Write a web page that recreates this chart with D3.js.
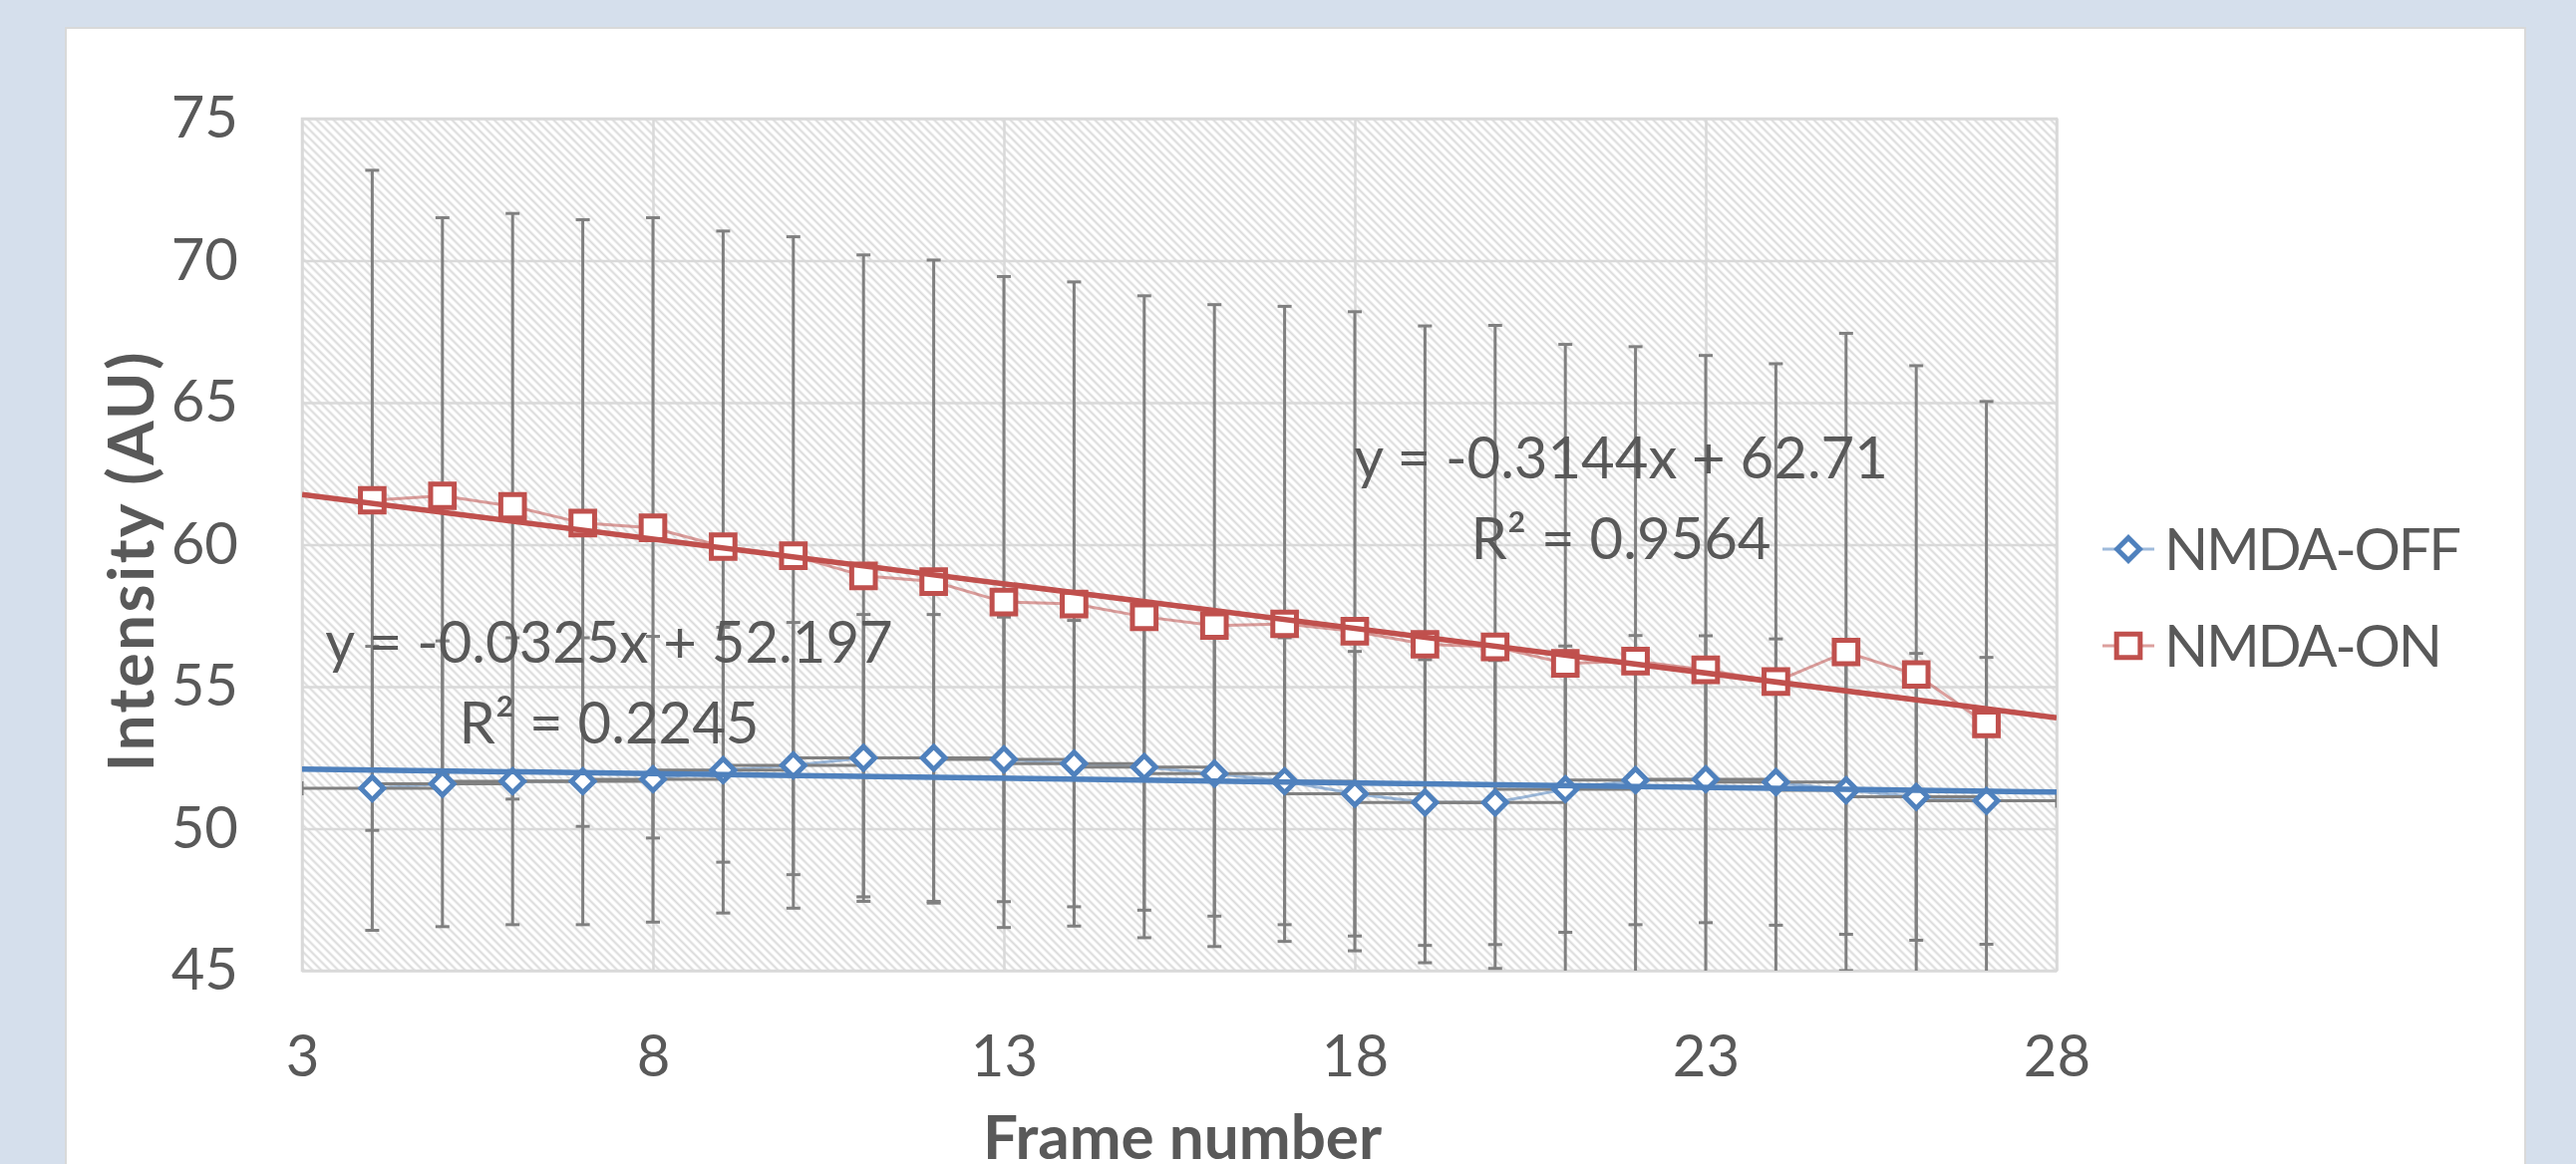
<!DOCTYPE html>
<html>
<head>
<meta charset="utf-8">
<script src="https://d3js.org/d3.v7.min.js"></script>
<style>
body { margin: 0; background: #d5dfec; }
svg { display: block; }
</style>
</head>
<body>
<script>
// frame numbers
var frames = [4, 5, 6, 7, 8, 9, 10, 11, 12, 13, 14, 15,
              16, 17, 18, 19, 20, 21, 22, 23, 24, 25, 26, 27];

// NMDA-OFF mean and SD
var offMean = [51.42, 51.58, 51.67, 51.67, 51.74, 52.06, 52.23, 52.49, 52.49, 52.44, 52.29, 52.17,
               51.94, 51.67, 51.23, 50.92, 50.92, 51.39, 51.71, 51.74, 51.64, 51.35, 51.12, 50.98];
var offSd = [5.00, 5.03, 5.05, 5.05, 5.03, 5.03, 5.03, 5.05, 5.05, 5.01, 5.04, 5.04,
             5.02, 5.05, 5.01, 5.03, 5.00, 5.04, 5.09, 5.05, 5.04, 5.07, 5.05, 5.05];
var offXErr = 1;

// NMDA-ON mean and SD
var onMean = [61.56, 61.72, 61.35, 60.76, 60.59, 59.93, 59.61, 58.90, 58.70, 57.98, 57.91, 57.46,
              57.15, 57.21, 56.95, 56.49, 56.40, 55.82, 55.90, 55.59, 55.18, 56.22, 55.43, 53.69];
var onSd = [11.62, 9.79, 10.31, 10.68, 10.92, 11.11, 11.23, 11.30, 11.32, 11.46, 11.34, 11.30,
            11.30, 11.18, 11.25, 11.21, 11.32, 11.23, 11.07, 11.07, 11.19, 11.22, 10.87, 11.35];

// linear trendlines (slope, intercept, R2)
var offTrend = [-0.0325, 52.197, 0.2245];
var onTrend = [-0.3144, 62.71, 0.9564];

var xTicks = [3, 8, 13, 18, 23, 28];
var yTicks = [45, 50, 55, 60, 65, 70, 75];
var seriesNames = ["NMDA-OFF", "NMDA-ON"];

var width = 2584, height = 1168;
var plotL = 303, plotR = 2063, plotT = 119, plotB = 974;
var fontSize = 58;
var textColor = "#595959";
var blue = "#4f81bd", red = "#c0504d", barColor = "#808080";

var svg = d3.select("body")
	.append("svg")
	.attr("width", width)
	.attr("height", height)
	.style("font-family", "Lato, 'Open Sans', sans-serif");

// white chart panel
svg.append("rect")
	.attr("x", 66).attr("y", 28)
	.attr("width", 2467).attr("height", 1200)
	.attr("fill", "#ffffff")
	.attr("stroke", "#d9d9d9")
	.attr("stroke-width", 2);

var defs = svg.append("defs");
var pat = defs.append("pattern")
	.attr("id", "hatch")
	.attr("patternUnits", "userSpaceOnUse")
	.attr("width", 6).attr("height", 6)
	.attr("patternTransform", "rotate(-45)");
pat.append("rect").attr("width", 6).attr("height", 6).attr("fill", "#ffffff");
pat.append("line")
	.attr("x1", 1.5).attr("y1", 0).attr("x2", 1.5).attr("y2", 6)
	.attr("stroke", "#d9d9d9")
	.attr("stroke-width", 2);

defs.append("clipPath").attr("id", "plotclip")
	.append("rect")
	.attr("x", plotL).attr("y", plotT)
	.attr("width", plotR - plotL).attr("height", plotB - plotT);

var x = d3.scaleLinear().domain([3, 28]).range([plotL, plotR]);
var y = d3.scaleLinear().domain([45, 75]).range([plotB, plotT]);

// plot area
svg.append("rect")
	.attr("x", plotL).attr("y", plotT)
	.attr("width", plotR - plotL).attr("height", plotB - plotT)
	.attr("fill", "url(#hatch)");

// gridlines
var gridY = svg.append("g")
	.attr("transform", "translate(" + plotL + ",0)")
	.call(d3.axisLeft(y).tickValues(yTicks).tickSize(-(plotR - plotL)).tickFormat(""));
var gridX = svg.append("g")
	.attr("transform", "translate(0," + plotB + ")")
	.call(d3.axisBottom(x).tickValues(xTicks).tickSize(-(plotB - plotT)).tickFormat(""));
[gridX, gridY].forEach(function(g) {
	g.select(".domain").remove();
	g.selectAll("line").attr("stroke", "#d9d9d9").attr("stroke-width", 2.5);
});

svg.append("rect")
	.attr("x", plotL).attr("y", plotT)
	.attr("width", plotR - plotL).attr("height", plotB - plotT)
	.attr("fill", "none")
	.attr("stroke", "#d9d9d9")
	.attr("stroke-width", 2.5);

// tick labels
var axY = svg.append("g")
	.attr("transform", "translate(" + plotL + ",0)")
	.call(d3.axisLeft(y).tickValues(yTicks).tickSize(0).tickPadding(64));
var axX = svg.append("g")
	.attr("transform", "translate(0," + plotB + ")")
	.call(d3.axisBottom(x).tickValues(xTicks).tickSize(0).tickPadding(65));
[axX, axY].forEach(function(g) {
	g.select(".domain").remove();
	g.selectAll("text")
		.attr("fill", textColor)
		.style("font-size", fontSize + "px")
		.style("font-family", "Lato, 'Open Sans', sans-serif");
});

// axis titles
svg.append("text")
	.attr("transform", "translate(154,564) rotate(-90)")
	.attr("text-anchor", "middle")
	.attr("fill", textColor)
	.attr("textLength", 421)
	.style("font-size", "64px")
	.style("font-weight", "bold")
	.text("Intensity (AU)");

svg.append("text")
	.attr("x", 1186).attr("y", 1163)
	.attr("text-anchor", "middle")
	.attr("fill", textColor)
	.style("font-size", "62px")
	.style("font-weight", "bold")
	.text("Frame number");

var offData = frames.map(function(f, i) { return {x: f, y: offMean[i], sd: offSd[i]}; });
var onData = frames.map(function(f, i) { return {x: f, y: onMean[i], sd: onSd[i]}; });

var plot = svg.append("g").attr("clip-path", "url(#plotclip)");

// series lines
var line = d3.line().x(function(d) { return x(d.x); }).y(function(d) { return y(d.y); });
plot.append("path").datum(offData)
	.attr("d", line).attr("fill", "none")
	.attr("stroke", blue).attr("stroke-opacity", 0.55).attr("stroke-width", 3);
plot.append("path").datum(onData)
	.attr("d", line).attr("fill", "none")
	.attr("stroke", red).attr("stroke-opacity", 0.55).attr("stroke-width", 3);

// vertical error bars
function vBars(data) {
	var g = plot.append("g")
		.attr("stroke", barColor)
		.attr("stroke-width", 3);
	g.selectAll("line.bar")
		.data(data)
		.enter()
		.append("line")
		.attr("x1", function(d) { return x(d.x); })
		.attr("x2", function(d) { return x(d.x); })
		.attr("y1", function(d) { return y(d.y - d.sd); })
		.attr("y2", function(d) { return y(d.y + d.sd); });
	[-1, 1].forEach(function(s) {
		g.selectAll("line.cap" + s)
			.data(data)
			.enter()
			.append("line")
			.attr("x1", function(d) { return x(d.x) - 7; })
			.attr("x2", function(d) { return x(d.x) + 7; })
			.attr("y1", function(d) { return y(d.y + s * d.sd); })
			.attr("y2", function(d) { return y(d.y + s * d.sd); });
	});
}
vBars(onData);
vBars(offData);

// horizontal error bars for NMDA-OFF
var hb = plot.append("g")
	.attr("stroke", barColor)
	.attr("stroke-width", 3);
hb.selectAll("line.h")
	.data(offData)
	.enter()
	.append("line")
	.attr("x1", function(d) { return x(d.x - offXErr); })
	.attr("x2", function(d) { return x(d.x + offXErr); })
	.attr("y1", function(d) { return y(d.y); })
	.attr("y2", function(d) { return y(d.y); });
[-1, 1].forEach(function(s) {
	hb.selectAll("line.hc" + s)
		.data(offData)
		.enter()
		.append("line")
		.attr("x1", function(d) { return x(d.x + s * offXErr); })
		.attr("x2", function(d) { return x(d.x + s * offXErr); })
		.attr("y1", function(d) { return y(d.y) - 7; })
		.attr("y2", function(d) { return y(d.y) + 7; });
});

// markers
var diamond = d3.symbol().type(d3.symbolSquare).size(260);
var square = d3.symbol().type(d3.symbolSquare).size(560);

plot.selectAll("path.off")
	.data(offData)
	.enter()
	.append("path")
	.attr("d", diamond)
	.attr("transform", function(d) { return "translate(" + x(d.x) + "," + y(d.y) + ") rotate(45)"; })
	.attr("fill", "#ffffff")
	.attr("stroke", blue)
	.attr("stroke-width", 5);

plot.selectAll("path.on")
	.data(onData)
	.enter()
	.append("path")
	.attr("d", square)
	.attr("transform", function(d) { return "translate(" + x(d.x) + "," + y(d.y) + ")"; })
	.attr("fill", "#ffffff")
	.attr("stroke", red)
	.attr("stroke-width", 5);

// trendlines
[[offTrend, blue], [onTrend, red]].forEach(function(t) {
	var c = t[0];
	plot.append("line")
		.attr("x1", x(3)).attr("y1", y(c[0] * 3 + c[1]))
		.attr("x2", x(28)).attr("y2", y(c[0] * 28 + c[1]))
		.attr("stroke", t[1])
		.attr("stroke-width", 5.5);
});

// trendline equations
function eqText(c, cx, by) {
	var slope = c[0].toFixed(4);
	svg.append("text")
		.attr("x", cx).attr("y", by)
		.attr("text-anchor", "middle")
		.attr("fill", textColor)
		.style("font-size", fontSize + "px")
		.text("y = " + slope + "x + " + c[1]);
	svg.append("text")
		.attr("x", cx).attr("y", by + 81)
		.attr("text-anchor", "middle")
		.attr("fill", textColor)
		.style("font-size", fontSize + "px")
		.text("R\u00b2 = " + c[2].toFixed(4));
}
eqText(onTrend, 1626, 480);
eqText(offTrend, 611, 665);

// legend
var legend = svg.append("g");
var legendY = [551, 648];
var legendW = [298, 279];
seriesNames.forEach(function(name, i) {
	var col = i == 0 ? blue : red;
	legend.append("line")
		.attr("x1", 2109).attr("x2", 2161)
		.attr("y1", legendY[i]).attr("y2", legendY[i])
		.attr("stroke", col).attr("stroke-opacity", 0.55)
		.attr("stroke-width", 3);
	legend.append("path")
		.attr("d", i == 0 ? diamond : square)
		.attr("transform", "translate(2135," + legendY[i] + ")" + (i == 0 ? " rotate(45)" : ""))
		.attr("fill", "#ffffff")
		.attr("stroke", col)
		.attr("stroke-width", 5);
	legend.append("text")
		.attr("x", 2171).attr("y", legendY[i] + 21)
		.attr("fill", textColor)
		.attr("textLength", legendW[i])
		.style("font-size", fontSize + "px")
		.text(name);
});
</script>
</body>
</html>
